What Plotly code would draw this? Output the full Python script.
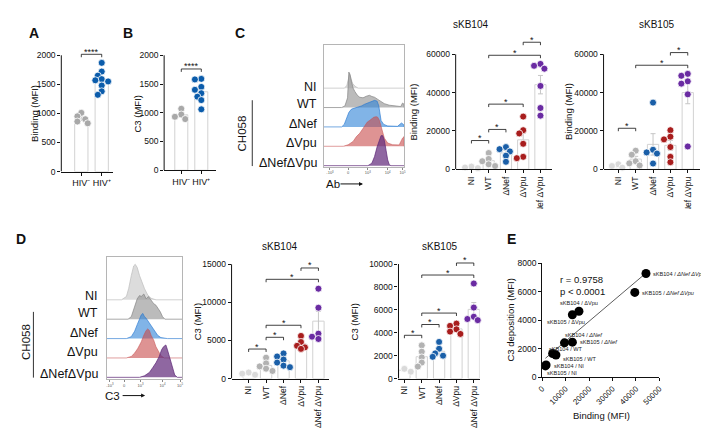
import numpy as np
import plotly.graph_objects as go

# ---------------- data ----------------
CATS = ["NI", "WT", "ΔNef", "ΔVpu", "ΔNef ΔVpu"]
HIV_TICKS = ["HIV⁻", "HIV⁺"]

A_HIVNEG = [1010, 950, 900, 860, 830]
A_HIVPOS = [1870, 1720, 1650, 1590, 1570, 1550, 1480, 1380, 1320]
B_HIVNEG = [1070, 970, 930, 890]
B_HIVPOS = [1590, 1580, 1450, 1400, 1340, 1280, 1220, 1060]

C104_NI = [1400, 900, 600]
C104_WT = [8500, 5400, 4200, 2600, 1700]
C104_NEF = [11600, 10500, 9300, 7100, 3900]
C104_VPU = [27500, 20400, 18700, 13300, 6500, 5800]
C104_NEFVPU = [55000, 54000, 52500, 43500, 32000, 28000]

C105_NI = [2600, 1700, 850]
C105_WT = [9700, 7600, 4200, 3100, 2000]
C105_NEF = [34800, 10200, 8800, 8200, 3000]
C105_VPU = [20400, 17000, 15600, 11600, 6500, 3700]
C105_NEFVPU = [49800, 48800, 45900, 44700, 39100, 11900]

D104_NI = [800, 650, 500]
D104_WT = [2750, 2000, 1600, 1300, 1000]
D104_NEF = [3300, 2900, 2500, 2100, 1700, 1500]
D104_VPU = [5600, 4800, 4300, 4100, 3900]
D104_NEFVPU = [11800, 9300, 5900, 5500, 5200]

D105_NI = [850, 750, 600]
D105_WT = [2900, 2350, 1850, 1400, 1050]
D105_NEF = [3200, 2600, 2200, 2000, 1900]
D105_VPU = [4800, 4600, 4300, 4100, 3900]
D105_NEFVPU = [8300, 6200, 5400, 5200, 5100]

# significance brackets: (group i, group j, level, label)
A_SIG = [(0, 1, 2017, "****")]
B_SIG = [(0, 1, 1762, "****")]
C104_SIG = [(0, 1, 15000, "*"), (1, 2, 20800, "*"), (1, 3, 34000, "*"), (1, 4, 59500, "*"), (3, 4, 66300, "*")]
C105_SIG = [(0, 1, 21400, "*"), (1, 4, 54300, "*"), (3, 4, 60900, "*")]
D104_SIG = [(0, 1, 3880, "*"), (1, 2, 5420, "*"), (1, 3, 7000, "*"), (1, 4, 13030, "*"), (3, 4, 14520, "*")]
D105_SIG = [(0, 1, 3780, "*"), (1, 2, 4720, "*"), (1, 3, 5720, "*"), (1, 4, 9040, "*"), (3, 4, 10090, "*")]

# correlation panel E
E_BINDING = [44260, 39500, 15690, 12890, 9520, 12890, 4480, 5880, 1680, 1400]
E_C3 = [7270, 5940, 4620, 4370, 2400, 2450, 1650, 1550, 850, 780]
E_LABELS = ["sKB104 / <i>ΔNef ΔVpu</i>", "sKB105 / <i>ΔNef ΔVpu</i>", "sKB104 / ΔVpu",
            "sKB105 / ΔVpu", "sKB104 / <i>ΔNef</i>", "sKB105 / <i>ΔNef</i>",
            "sKB104 / WT", "sKB105 / WT", "sKB104 / NI", "sKB105 / NI"]
E_R_TEXT = "r = 0.9758"
E_P_TEXT = "p < 0.0001"

# flow histograms (x on 0-100 display scale, height in row units)
HC_NI_X = [26, 29, 31, 32.5, 34, 36, 39, 43]
HC_NI_H = [0, 0.15, 0.6, 0.75, 0.5, 0.25, 0.1, 0]
HC_WT_X = [22.4, 26.5, 29.8, 31.4, 33, 34.7, 36.7, 38.8, 42, 44.9, 49, 53, 57, 60, 63.3, 67.3, 71.4, 75.5, 81.6, 89.8, 95.9, 98, 100]
HC_WT_H = [0, 0.08, 0.5, 1.83, 1.67, 1.33, 1.0, 0.83, 0.63, 0.53, 0.5, 0.58, 0.63, 0.57, 0.53, 0.42, 0.3, 0.2, 0.12, 0.07, 0.05, 0.23, 0.17]
HC_NEF_X = [22.4, 25.7, 28.6, 31.4, 34.7, 38.8, 42.9, 47, 51, 55.1, 59.2, 63.3, 66.5, 68.6, 71.4, 74.7, 79.6, 91.8, 96.7, 99.2]
HC_NEF_H = [0, 0.13, 0.42, 0.75, 0.92, 0.97, 1.03, 1.08, 1.17, 1.25, 1.3, 1.37, 1.33, 1.08, 0.33, 0.13, 0.05, 0.03, 0.2, 0.13]
HC_VPU_X = [24.5, 30.6, 36.7, 40.8, 44.9, 49, 51.8, 54.3, 57.1, 60, 62.4, 65.3, 67.3, 69.4, 71.4, 75.5, 79.6, 85.7, 93.9, 98, 100]
HC_VPU_H = [0, 0.08, 0.25, 0.5, 0.67, 0.92, 1.13, 1.25, 1.33, 1.42, 1.5, 1.53, 1.5, 1.33, 1.0, 0.42, 0.17, 0.08, 0.07, 0.42, 0.5]
HC_NEFVPU_X = [55.1, 60, 63.3, 66.5, 69.4, 71.4, 73.5, 75.5, 77.6, 79.6, 81.6, 83.7]
HC_NEFVPU_H = [0, 0.13, 0.47, 0.97, 1.38, 1.55, 1.55, 1.3, 0.8, 0.3, 0.05, 0]

HD_NI_X = [19.6, 26.1, 29.1, 32.6, 35.7, 37.8, 40.4, 43.5, 46.5, 50, 54.3, 58.7, 65.2]
HD_NI_H = [0, 0.17, 0.58, 1.25, 1.75, 1.83, 1.67, 1.25, 0.92, 0.58, 0.25, 0.08, 0]
HD_WT_X = [28.3, 32.6, 37, 40.4, 43.5, 45.7, 49.1, 52.2, 55.2, 58.7, 62.2, 65.2, 68.3, 70.9, 73.9, 77]
HD_WT_H = [0, 0.13, 0.63, 1.05, 1.22, 1.17, 1.3, 1.05, 1.17, 0.97, 0.8, 0.72, 0.55, 0.38, 0.13, 0]
HD_NEF_X = [26.1, 32.6, 37, 40.4, 43.5, 45.7, 47.8, 50, 52.2, 55.2, 58.7, 63, 67.4, 71.7, 80.4]
HD_NEF_H = [0, 0.1, 0.38, 0.72, 1.05, 1.22, 1.3, 1.13, 1.05, 0.88, 0.63, 0.38, 0.17, 0.05, 0]
HD_VPU_X = [26.1, 32.6, 37, 41.3, 45.7, 49.1, 52.2, 54.3, 56.5, 58.7, 62.2, 65.2, 68.3, 71.7, 76.1]
HD_VPU_H = [0, 0.08, 0.25, 0.5, 0.83, 1.17, 1.42, 1.5, 1.42, 1.17, 0.92, 0.58, 0.33, 0.12, 0]
HD_NEFVPU_X = [43.5, 50, 56.5, 60.9, 65.2, 69.6, 72.6, 75.2, 78.3, 80.4, 83.9, 87, 90, 93.5]
HD_NEFVPU_H = [0, 0.08, 0.25, 0.5, 0.75, 1.08, 1.42, 1.58, 1.67, 1.42, 0.92, 0.42, 0.12, 0]

HC_TICKS = [8, 30.6, 55, 79.6, 98]
HD_TICKS = [4.3, 23, 44.8, 73.9, 97]
FLOW_TICKLABELS = ["-10<sup>3</sup>", "0", "10<sup>3</sup>", "10<sup>4</sup>", "10<sup>5</sup>"]
ROW_LABELS = ["NI", "WT", "ΔNef", "ΔVpu", "ΔNefΔVpu"]

# ---------------- styling ----------------
W, H = 709, 430
FONT = "Liberation Sans, Arial, Helvetica, sans-serif"
GROUP_COLORS = ["#dadada", "#b2b2b2", "#1a5fa8", "#a81d1d", "#6a2ba2"]
HIV_COLORS = ["#a8a8a8", "#0b5cab"]
HIST_FILL = ["rgba(205,205,205,0.7)", "rgba(150,150,150,0.65)", "rgba(45,130,215,0.6)",
             "rgba(200,75,75,0.6)", "rgba(100,45,125,0.72)"]
HIST_LINE = ["rgba(190,190,190,0.9)", "rgba(135,135,135,0.9)", "rgba(40,120,210,0.8)",
             "rgba(200,80,80,0.7)", "rgba(95,40,120,0.9)"]


def fx(p):
    return p / W


def fy(p):
    return 1 - p / H


fig = go.Figure()
layout = dict(width=W, height=H, margin=dict(l=0, r=0, t=0, b=0),
              paper_bgcolor="white", plot_bgcolor="rgba(0,0,0,0)", showlegend=False,
              font=dict(family=FONT, size=9, color="#111"))
shapes, annotations = [], []
axis_n = [0]


def new_axes(left, right, bottom, top, xr, yr):
    axis_n[0] += 1
    n = axis_n[0]
    s = "" if n == 1 else str(n)
    layout["xaxis" + s] = dict(domain=[fx(left), fx(right)], range=xr, anchor="y" + s,
                               showgrid=False, zeroline=False, fixedrange=True)
    layout["yaxis" + s] = dict(domain=[fy(bottom), fy(top)], range=yr, anchor="x" + s,
                               showgrid=False, zeroline=False, fixedrange=True)
    return "x" + s, "y" + s, "xaxis" + s, "yaxis" + s


def text(x, y, t, size=9, xanchor="center", yanchor="middle", angle=0, color="#111"):
    annotations.append(dict(x=fx(x), y=fy(y), xref="paper", yref="paper", text=t,
                            showarrow=False, xanchor=xanchor, yanchor=yanchor,
                            textangle=angle, font=dict(size=size, color=color, family=FONT)))


def arrow(x_end, y, length):
    annotations.append(dict(x=fx(x_end), y=fy(y), xref="paper", yref="paper", ax=-length,
                            ay=0, axref="pixel", ayref="pixel", text="", showarrow=True,
                            arrowhead=2, arrowsize=0.8, arrowwidth=1, arrowcolor="#111"))


def swarm_offsets(vals, pxper, sp, d=6.5):
    order = sorted(range(len(vals)), key=lambda i: -vals[i])
    placed = []
    offs = [0.0] * len(vals)
    cands = [0, -4, 4, -6.5, 6.5, -2, 2]
    for i in order:
        y = vals[i] * pxper
        best, bestgap = 0, -1
        for c in cands:
            gaps = [((c - px) ** 2 + (y - py) ** 2) ** 0.5 for px, py in placed]
            gap = min(gaps) if gaps else 99
            if gap >= d * 0.8:
                best = c
                break
            if gap > bestgap:
                best, bestgap = c, gap
        placed.append((best, y))
        offs[i] = best / sp
    return offs


def cat_panel(groups, colors, ticktext, left, right, c0, sp, y0px, ytpx, tickmax, dtick,
              rmax, sig, tickangle=-90, tickfont=8.5, bar_w=0.65):
    pxper = (y0px - ytpx) / tickmax
    top_px = y0px - rmax * pxper
    xr = [(left - c0) / sp, (right - c0) / sp]
    xa, ya, xk, yk = new_axes(left, right, y0px, top_px, xr, [0, rmax])
    n = len(groups)
    layout[xk].update(showline=True, linecolor="#111", linewidth=1, ticks="outside",
                      ticklen=3, tickcolor="#111", tickvals=list(range(n)), ticktext=ticktext,
                      tickangle=tickangle, tickfont=dict(size=tickfont, color="#111"))
    tv = list(range(0, tickmax + 1, dtick))
    layout[yk].update(showline=False, ticks="outside", ticklen=3, tickcolor="#111",
                      tickvals=tv, ticktext=[str(v) for v in tv],
                      tickfont=dict(size=8.5, color="#111"))
    shapes.append(dict(type="line", xref=xa + " domain", yref=ya, x0=0, x1=0, y0=0,
                       y1=tickmax, line=dict(color="#111", width=1)))
    means = [float(np.mean(g)) for g in groups]
    sems = [float(np.std(g, ddof=1) / np.sqrt(len(g))) for g in groups]
    fig.add_trace(go.Bar(x=list(range(n)), y=means, width=bar_w, xaxis=xa, yaxis=ya,
                         marker=dict(color="white", line=dict(color="#d2d2d2", width=1)),
                         error_y=dict(type="data", array=sems, color="#c6c6c6",
                                      thickness=1, width=2.5)))
    for i, g in enumerate(groups):
        offs = swarm_offsets(g, pxper, sp)
        fig.add_trace(go.Scatter(x=[i + o for o in offs], y=g, mode="markers",
                                 xaxis=xa, yaxis=ya, cliponaxis=False,
                                 marker=dict(size=7, color=colors[i],
                                             line=dict(color="white", width=0.8))))
    drop = 3 / pxper
    for i, j, lvl, lab in sig:
        shapes.append(dict(type="path", xref=xa, yref=ya,
                           path=f"M {i},{lvl - drop} L {i},{lvl} L {j},{lvl} L {j},{lvl - drop}",
                           line=dict(color="#111", width=0.8)))
        annotations.append(dict(x=(i + j) / 2, y=lvl, xref=xa, yref=ya, text=lab,
                                showarrow=False, yanchor="middle", yshift=2.5,
                                font=dict(size=9, color="#111", family=FONT)))
    return xa, ya


def hist_panel(xs_list, hs_list, left, right, top, bottom, base_px, ticks):
    unit = 20.0
    yr = [-(bottom - base_px) / unit - 0.05, (base_px - top) / unit]
    xa, ya, xk, yk = new_axes(left, right, bottom, top, [0, 100], yr)
    layout[xk].update(showline=True, mirror=True, linecolor="#b5b5b5", linewidth=1,
                      ticks="outside", ticklen=2, tickcolor="#888", tickvals=ticks,
                      ticktext=FLOW_TICKLABELS, tickfont=dict(size=4, color="#555"))
    layout[yk].update(showline=True, mirror=True, linecolor="#b5b5b5", linewidth=1,
                      showticklabels=False, ticks="")
    nrow = len(xs_list)
    for k in range(nrow):
        base = nrow - 1 - k
        xs = [0] + list(xs_list[k]) + [100]
        ys = [base] + [base + h for h in hs_list[k]] + [base]
        fig.add_trace(go.Scatter(x=xs, y=ys, mode="lines", fill="toself",
                                 fillcolor=HIST_FILL[k], xaxis=xa, yaxis=ya,
                                 line=dict(color=HIST_LINE[k], width=0.8)))


# ---------------- panels A & B ----------------
cat_panel([A_HIVNEG, A_HIVPOS], HIV_COLORS, HIV_TICKS, 49, 101, 69.3, 20.7, 162.3, 43.3,
          2000, 500, 2150, A_SIG, tickangle=0, tickfont=9)
cat_panel([B_HIVNEG, B_HIVPOS], HIV_COLORS, HIV_TICKS, 153.3, 206, 170.7, 20.3, 161, 43.3,
          2000, 500, 2100, B_SIG, tickangle=0, tickfont=9)
text(21.7, 103, "Binding (MFI)", size=9.5, angle=-90)
text(126.7, 103, "C3 (MFI)", size=9.5, angle=-90)
text(21.7, 20, "<b>A</b>", size=14)
text(116.7, 20, "<b>B</b>", size=14)

# ---------------- panel C ----------------
text(230, 20, "<b>C</b>", size=14)
hist_panel([HC_NI_X, HC_WT_X, HC_NEF_X, HC_VPU_X, HC_NEFVPU_X],
           [HC_NI_H, HC_WT_H, HC_NEF_H, HC_VPU_H, HC_NEFVPU_H],
           315, 396.7, 33, 157.3, 157.3, HC_TICKS)
for lab, yy in zip(ROW_LABELS, [76, 93, 113.3, 133.3, 153.3]):
    text(310.5, yy, lab, size=12.5, xanchor="right")
text(232.3, 123.3, "CH058", size=11.5, angle=-90)
shapes.append(dict(type="line", xref="paper", yref="paper", x0=fx(242.7), x1=fx(242.7),
                   y0=fy(89.3), y1=fy(156.7), line=dict(color="#333", width=1)))
text(315, 175, "Ab", size=11.5, xanchor="left")
arrow(355, 175, 24)

cat_panel([C104_NI, C104_WT, C104_NEF, C104_VPU, C104_NEFVPU], GROUP_COLORS, CATS,
          449, 547, 465, 17.5, 160, 42.3, 60000, 20000, 68500, C104_SIG)
cat_panel([C105_NI, C105_WT, C105_NEF, C105_VPU, C105_NEFVPU], GROUP_COLORS, CATS,
          599, 697, 614, 17.6, 160, 42.3, 60000, 20000, 63000, C105_SIG)
text(464, 12, "sKB104", size=10)
text(653, 12, "sKB105", size=10)
text(406.7, 101, "Binding (MFI)", size=9.5, angle=-90)
text(563.3, 101, "Binding (MFI)", size=9.5, angle=-90)
# crop of the rotated labels as in the source figure
shapes.append(dict(type="rect", xref="paper", yref="paper", x0=fx(430), x1=1,
                   y0=fy(212), y1=fy(200.5), fillcolor="white", line=dict(width=0),
                   layer="above"))

# ---------------- panel D ----------------
text(8.5, 231.7, "<b>D</b>", size=14)
hist_panel([HD_NI_X, HD_WT_X, HD_NEF_X, HD_VPU_X, HD_NEFVPU_X],
           [HD_NI_H, HD_WT_H, HD_NEF_H, HD_VPU_H, HD_NEFVPU_H],
           95, 171.7, 250.3, 375, 374, HD_TICKS)
for lab, yy in zip(ROW_LABELS, [289.3, 307.3, 327.3, 347.3, 369.3]):
    text(88, yy, lab, size=12.5, xanchor="right")
text(13.3, 336.7, "CH058", size=11.5, angle=-90)
shapes.append(dict(type="line", xref="paper", yref="paper", x0=fx(20.7), x1=fx(20.7),
                   y0=fy(306), y1=fy(373.3), line=dict(color="#333", width=1)))
text(91.7, 391.7, "C3", size=11.5, xanchor="left")
arrow(134, 391.7, 24)

cat_panel([D104_NI, D104_WT, D104_NEF, D104_VPU, D104_NEFVPU], GROUP_COLORS, CATS,
          221.7, 320.7, 239, 17.7, 374.3, 257.3, 15000, 5000, 15800, D104_SIG)
cat_panel([D105_NI, D105_WT, D105_NEF, D105_VPU, D105_NEFVPU], GROUP_COLORS, CATS,
          391, 473.3, 397, 17.6, 374.3, 257, 10000, 2000, 10700, D105_SIG)
text(270, 239.3, "sKB104", size=10)
text(433, 239.3, "sKB105", size=10)
text(187.3, 316, "C3 (MFI)", size=9.5, angle=-90)
text(346.7, 316, "C3 (MFI)", size=9.5, angle=-90)

# ---------------- panel E ----------------
text(506, 231.7, "<b>E</b>", size=14)
xa, ya, xk, yk = new_axes(536.7, 655.7, 372.7, 256, [0, 50000], [0, 8000])
xt = list(range(0, 50001, 10000))
yt = list(range(0, 8001, 2000))
layout[xk].update(showline=True, linecolor="#111", linewidth=1, ticks="outside", ticklen=3,
                  tickcolor="#111", tickvals=xt, ticktext=[str(v) for v in xt], tickangle=-45,
                  tickfont=dict(size=8, color="#111"))
layout[yk].update(showline=True, linecolor="#111", linewidth=1, ticks="outside", ticklen=3,
                  tickcolor="#111", tickvals=yt, ticktext=[str(v) for v in yt],
                  tickfont=dict(size=8.5, color="#111"))
slope, icpt = np.polyfit(E_BINDING, E_C3, 1)
lx = [min(E_BINDING), max(E_BINDING)]
fig.add_trace(go.Scatter(x=lx, y=[slope * v + icpt for v in lx], mode="lines",
                         xaxis=xa, yaxis=ya, line=dict(color="#333", width=0.8)))
fig.add_trace(go.Scatter(x=E_BINDING, y=E_C3, mode="markers", xaxis=xa, yaxis=ya,
                         cliponaxis=False, marker=dict(size=9, color="#000")))
E_LABEL_STYLE = [("left", 5, -1), ("left", 5, -1), ("center", 0, 8), ("center", -6, -7),
                 ("left", -1, 8), ("left", 6, 0), ("left", -6, 5), ("left", 5, -4),
                 ("left", 6, -1), ("left", 0, -7)]
for (bx, cy, lab, (xan, xs, ys)) in zip(E_BINDING, E_C3, E_LABELS, E_LABEL_STYLE):
    annotations.append(dict(x=bx, y=cy, xref=xa, yref=ya, text=lab, showarrow=False,
                            xanchor=xan, yanchor="middle", xshift=xs, yshift=ys,
                            font=dict(size=5.6, color="#222", family=FONT)))
text(552.7, 272.7, E_R_TEXT, size=9.5, xanchor="left")
text(552.7, 285, E_P_TEXT, size=9.5, xanchor="left")
text(505, 314, "C3 deposition (MFI)", size=9.5, angle=-90)
text(597, 411.7, "Binding (MFI)", size=9.5)

layout["shapes"] = shapes
layout["annotations"] = annotations
fig.update_layout(**layout)
fig.write_html("out.html")
